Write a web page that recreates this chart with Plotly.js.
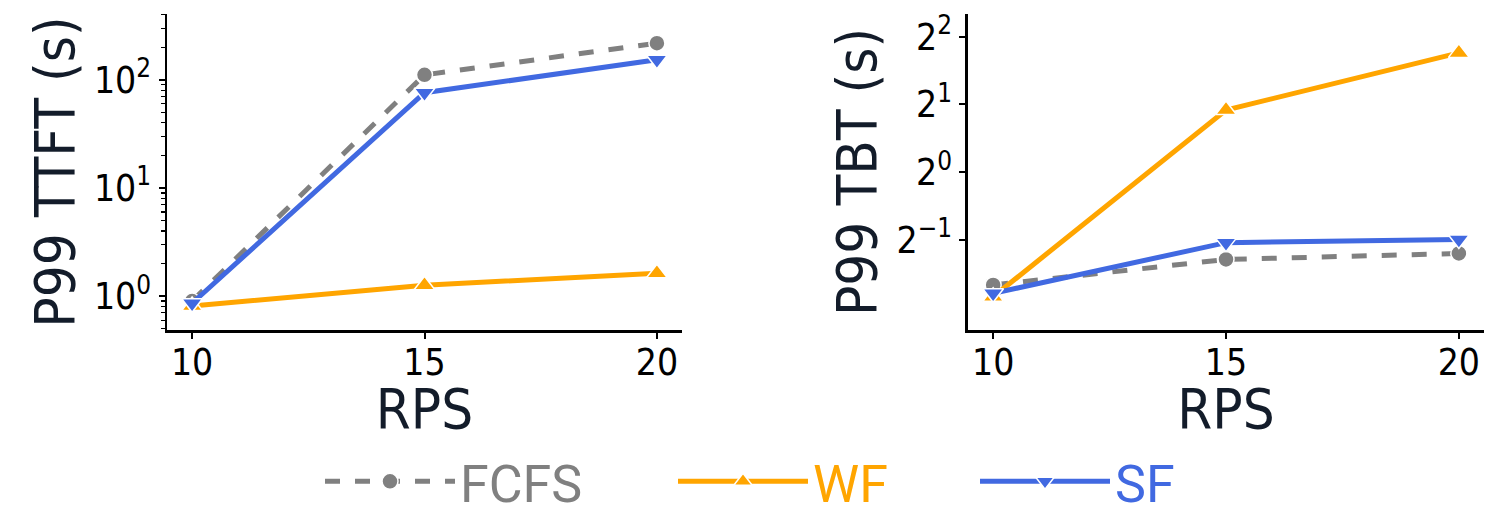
<!DOCTYPE html>
<html>
<head>
<meta charset="utf-8">
<script src="https://cdn.plot.ly/plotly-3.0.1.min.js"></script>
<style>html,body{margin:0;padding:0;background:#fff;}#chart{width:1506px;height:522px;}</style>
</head>
<body>
<div id="chart"></div>
<script>
// ---- data ----
const rps = [10, 15, 20];
const ttftFCFS = [0.90, 111, 218];
const ttftWF   = [0.81, 1.26, 1.63];
const ttftSF   = [0.86, 76, 153];
const tbtFCFS  = [0.316, 0.41, 0.436];
const tbtWF    = [0.28, 1.89, 3.39];
const tbtSF    = [0.29, 0.487, 0.503];
const xTickVals = [10, 15, 20];
const ttftTickVals = [1, 10, 100];
const ttftTickText = ["10<sup>0</sup>", "10<sup>1</sup>", "10<sup>2</sup>"];
const ttftMinorVals = [0.5,0.6,0.7,0.8,0.9,2,3,4,5,6,7,8,9,20,30,40,50,60,70,80,90,200,300,400];
const tbtTickVals = [0.5, 1, 2, 4];
const tbtTickText = ["2<sup>\u22121</sup>", "2<sup>0</sup>", "2<sup>1</sup>", "2<sup>2</sup>"];

// ---- styles ----
const colors = {FCFS: "#808080", WF: "#FFA500", SF: "#4169E1"};
const dashes = {FCFS: "dash", WF: "solid", SF: "solid"};
const symbols = {FCFS: "circle", WF: "triangle-up", SF: "triangle-down"};
const sizes = {FCFS: 16, WF: 18, SF: 18};
const legendIds = {FCFS: "legend", WF: "legend2", SF: "legend3"};

function tr(name, x, y, xa, ya, showlegend) {
  return {
    type: "scatter", mode: "lines+markers", name: name, x: x, y: y,
    xaxis: xa, yaxis: ya, showlegend: showlegend, legendgroup: name, legend: legendIds[name],
    line: {color: colors[name], width: 5, dash: dashes[name]},
    marker: {symbol: symbols[name], size: sizes[name], color: colors[name], line: {color: "#fff", width: 1.5}}
  };
}

const data = [
  tr("FCFS", rps, ttftFCFS, "x", "y", true),
  tr("WF", rps, ttftWF, "x", "y", true),
  tr("SF", rps, ttftSF, "x", "y", true),
  tr("FCFS", rps, tbtFCFS, "x2", "y2", false),
  tr("WF", rps, tbtWF, "x2", "y2", false),
  tr("SF", rps, tbtSF, "x2", "y2", false)
];

const tickFont = {family: "DejaVu Sans Condensed, DejaVu Sans", size: 37, color: "#000"};
const titleFont = {family: "DejaVu Sans Condensed, DejaVu Sans", size: 56, color: "#131c2a"};

function xax(domain, anchor) {
  return {
    domain: domain, anchor: anchor, range: [9.46, 20.54], tickvals: xTickVals, automargin: false,
    ticks: "outside", ticklen: 6, tickwidth: 2, tickcolor: "#000", ticklabelstandoff: -8,
    showline: true, linecolor: "#000", linewidth: 2.5, showgrid: false, zeroline: false,
    tickfont: tickFont, title: {text: "RPS", font: titleFont, standoff: 0}
  };
}

function leg(name, px) {
  return {orientation: "h", xref: "container", yref: "container", x: px / 1506, xanchor: "left",
          y: 0, yanchor: "bottom",
          font: {family: "Roboto", size: 52, color: colors[name]}, itemwidth: 130, bgcolor: "rgba(0,0,0,0)"};
}

const layout = {
  width: 1506, height: 522,
  margin: {l: 167, r: 22, t: 14, b: 192},
  paper_bgcolor: "#fff", plot_bgcolor: "#fff",
  showlegend: true,
  legend: leg("FCFS", 320),
  legend2: leg("WF", 673),
  legend3: leg("SF", 975),
  xaxis: xax([0, 0.39104], "y"),
  xaxis2: xax([0.6082, 1], "y2"),
  yaxis: {
    domain: [0, 1], anchor: "x", type: "log", range: [-0.313, 2.608], automargin: false,
    tickvals: ttftTickVals, ticktext: ttftTickText,
    ticks: "outside", ticklen: 6, tickwidth: 2, tickcolor: "#000",
    minor: {tickvals: ttftMinorVals, ticks: "outside", ticklen: 3.5, tickwidth: 1.2, tickcolor: "#000", showgrid: false},
    showline: true, linecolor: "#000", linewidth: 2.5, showgrid: false, zeroline: false,
    tickfont: tickFont, title: {text: "P99 TTFT (s)", font: titleFont, standoff: 2}
  },
  yaxis2: {
    domain: [0, 1], anchor: "x2", type: "log", range: [-2.327 * 0.30103, 2.335 * 0.30103], automargin: false,
    tickvals: tbtTickVals, ticktext: tbtTickText,
    ticks: "outside", ticklen: 6, tickwidth: 2, tickcolor: "#000",
    showline: true, linecolor: "#000", linewidth: 2.5, showgrid: false, zeroline: false,
    tickfont: tickFont, title: {text: "P99 TBT (s)", font: titleFont, standoff: 2}
  }
};

Plotly.newPlot("chart", data, layout, {staticPlot: true, displayModeBar: false});
</script>
</body>
</html>
